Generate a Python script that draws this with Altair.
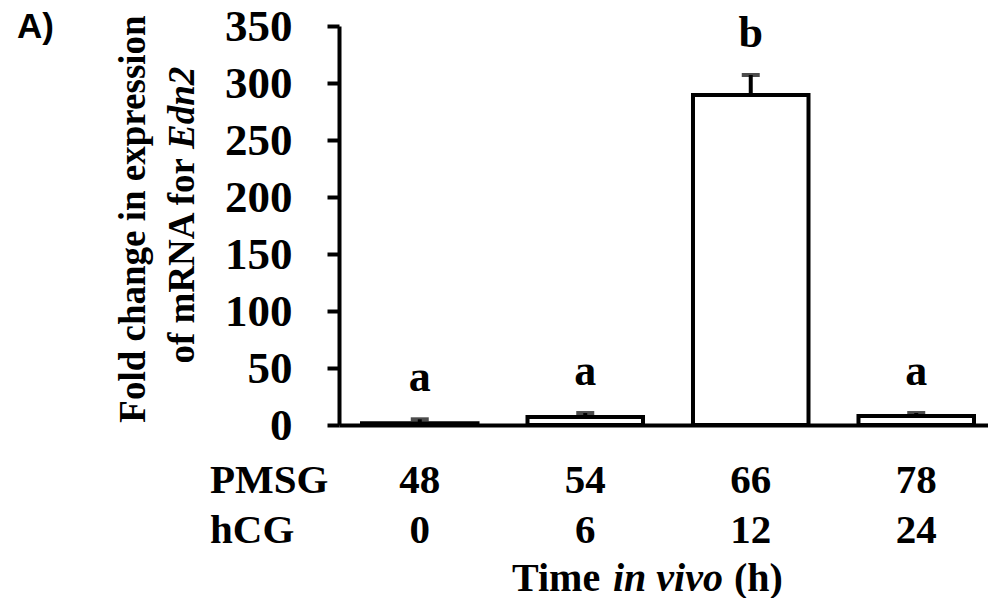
import altair as alt
import pandas as pd

# ---- data ----
pmsg_hours = ["48", "54", "66", "78"]
hcg_hours = ["0", "6", "12", "24"]
fold_change = [1.5, 7.0, 289.5, 8.0]
sem = [3.5, 3.5, 17.5, 2.5]
letters = ["a", "a", "b", "a"]
y_ticks = [0, 50, 100, 150, 200, 250, 300, 350]
row_labels = ["PMSG", "hCG"]
y_title = ["Fold change in expression", "of mRNA for", "Edn2"]
x_title = ["Time", "in vivo", "(h)"]
panel_label = "A)"

df = pd.DataFrame({
    "pmsg": pmsg_hours,
    "hcg": hcg_hours,
    "mean": fold_change,
    "sem": sem,
    "letter": letters,
})

SERIF = "Liberation Serif"
SANS = "Liberation Sans"
W, H = 649, 399

x_enc = alt.X(
    "pmsg:N",
    sort=pmsg_hours,
    scale=alt.Scale(range=[0, 658], paddingInner=0.302, paddingOuter=0.139),
    axis=alt.Axis(title=None, labels=False, ticks=False, domainWidth=4,
                  domainColor="black", grid=False),
)
y_scale = alt.Scale(domain=[0, 350], nice=False, zero=True)

base = alt.Chart(df).transform_calculate(upper="datum.mean + datum.sem")

bars = base.mark_bar(fill="white", stroke="black", strokeWidth=4).encode(
    x=x_enc,
    y=alt.Y(
        "mean:Q",
        scale=y_scale,
        axis=alt.Axis(values=y_ticks, title=None, domainWidth=4, domainColor="black",
                      tickSize=12, tickWidth=4, tickColor="black", labelFont=SERIF,
                      labelFontSize=45, labelFontWeight="bold", labelColor="black",
                      labelPadding=35, grid=False),
    ),
)

err = base.mark_rule(color="black", strokeWidth=4).encode(
    x=x_enc, y=alt.Y("mean:Q", scale=y_scale), y2="upper:Q"
)
cap = base.mark_tick(color="black", thickness=4, size=18, orient="horizontal").encode(
    x=x_enc, y=alt.Y("upper:Q", scale=y_scale)
)
sig = base.mark_text(font=SERIF, fontSize=44, fontWeight="bold", baseline="alphabetic",
                     dy=-28, color="black").encode(
    x=x_enc, y=alt.Y("upper:Q", scale=y_scale), text="letter:N"
)

pm_row = base.mark_text(font=SERIF, fontSize=41, fontWeight="bold", baseline="alphabetic",
                        color="black").encode(x=x_enc, y=alt.value(467), text="pmsg:N")
hc_row = base.mark_text(font=SERIF, fontSize=41, fontWeight="bold", baseline="alphabetic",
                        color="black").encode(x=x_enc, y=alt.value(517), text="hcg:N")

rows_df = pd.DataFrame({"label": row_labels, "ypos": [467, 517]})
row_text = alt.Chart(rows_df).mark_text(font=SERIF, fontSize=41, fontWeight="bold",
                                        baseline="alphabetic", align="left",
                                        color="black").encode(
    x=alt.value(-129), y=alt.Y("ypos:Q", scale=None), text="label:N"
)


def txt(t, **kw):
    enc = {}
    for k in ("x", "y"):
        enc[k] = alt.value(kw.pop(k))
    return alt.Chart(pd.DataFrame({"t": [t]})).mark_text(color="black", **kw).encode(
        text="t:N", **enc)


yt1 = txt(y_title[0], x=-205, y=193, angle=270, font=SERIF, fontSize=37,
          fontWeight="bold", baseline="middle", align="center")
yt2 = txt(y_title[1], x=-156, y=132, angle=270, font=SERIF, fontSize=37,
          fontWeight="bold", baseline="middle", align="right")
yt3 = txt(y_title[2], x=-156, y=123, angle=270, font=SERIF, fontSize=37,
          fontWeight="bold", fontStyle="italic", baseline="middle", align="left")

xt1 = txt(x_title[0], x=173, y=565, font=SERIF, fontSize=40, fontWeight="bold",
          baseline="alphabetic", align="left")
xt2 = txt(x_title[1], x=274, y=565, font=SERIF, fontSize=40, fontWeight="bold",
          fontStyle="italic", baseline="alphabetic", align="left")
xt3 = txt(x_title[2], x=395, y=565, font=SERIF, fontSize=40, fontWeight="bold",
          baseline="alphabetic", align="left")

pl = txt(panel_label, x=-322, y=12, font=SANS, fontSize=35, fontWeight="bold",
         baseline="alphabetic", align="left")

chart = alt.layer(
    bars, err, cap, sig, pm_row, hc_row, row_text, yt1, yt2, yt3, xt1, xt2, xt3, pl
).properties(
    width=W, height=H,
    autosize=alt.AutoSizeParams(type="none"),
    padding={"left": 331, "top": 18, "right": 0, "bottom": 173},
    background="white",
).configure_view(stroke=None)

chart.save("out.html", embed_options={"renderer": "svg", "actions": False})
